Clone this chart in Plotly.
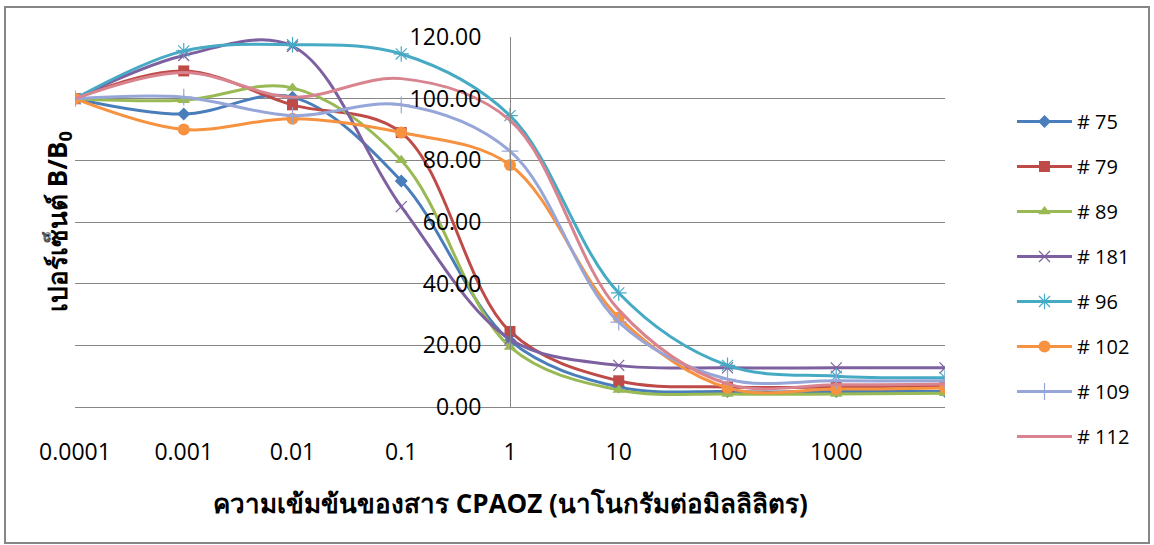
import plotly.graph_objects as go

# ---- data ----
conc = [0.0001, 0.001, 0.01, 0.1, 1, 10, 100, 1000, 10000]
tick_vals = [0.0001, 0.001, 0.01, 0.1, 1, 10, 100, 1000]
tick_text = ["0.0001", "0.001", "0.01", "0.1", "1", "10", "100", "1000"]
y_ticks = [0, 20, 40, 60, 80, 100, 120]
y_ticktext = ["0.00", "20.00", "40.00", "60.00", "80.00", "100.00", "120.00"]

names = ["# 75", "# 79", "# 89", "# 181", "# 96", "# 102", "# 109", "# 112"]
s75 = [100, 95.0, 100.5, 73.3, 21.5, 6.5, 5.0, 5.0, 5.0]
s79 = [100, 109.0, 98.0, 89.0, 24.5, 8.5, 6.5, 6.5, 7.0]
s89 = [100, 99.5, 103.5, 80.0, 19.5, 5.5, 4.2, 4.2, 4.5]
s181 = [100, 114.0, 117.0, 65.0, 22.0, 13.5, 12.7, 12.7, 12.7]
s96 = [100, 115.5, 117.5, 114.5, 94.5, 37.0, 13.5, 10.0, 9.5]
s102 = [100, 90.0, 93.5, 89.0, 78.5, 29.0, 6.2, 5.8, 6.2]
s109 = [100, 100.5, 94.5, 98.0, 83.0, 27.5, 9.0, 8.5, 8.5]
s112 = [100, 108.5, 100.5, 106.5, 93.0, 31.5, 7.5, 7.2, 7.5]
series = [s75, s79, s89, s181, s96, s102, s109, s112]

colors = ["#4A7EBB", "#BE4B48", "#98B954", "#7D60A0", "#46AAC5", "#F69240", "#97A6D8", "#D9838F"]
symbols = ["diamond", "square", "triangle-up", "x-thin", "asterisk", "circle", "cross-thin", None]
msizes = [10, 11, 11, 11, 13, 12, 12, 0]

fig = go.Figure()
for name, ys, col, sym, ms in zip(names, series, colors, symbols, msizes):
    if sym is None:
        fig.add_trace(go.Scatter(
            x=conc, y=ys, name=name, mode="lines", legendgroup=name,
            line=dict(color=col, width=3, shape="spline", smoothing=1.0)))
    else:
        thin = sym in ("x-thin", "asterisk", "cross-thin")
        fig.add_trace(go.Scatter(
            x=conc, y=ys, name=name, mode="lines+markers", legendgroup=name,
            line=dict(color=col, width=3, shape="spline", smoothing=1.0),
            marker=dict(symbol=sym, size=ms, color=col,
                        line=dict(color=col, width=1.2 if thin else 0))))

L, R, T, B = 75, 209, 37, 138
W, H = 1154, 545
pw = W - L - R
ph = H - T - B

def px_x(p):
    return (p - L) / pw

def px_y(p):
    return (H - B - p) / ph

fig.update_layout(
    width=W, height=H,
    margin=dict(l=L, r=R, t=T, b=B),
    paper_bgcolor="white", plot_bgcolor="white",
    font=dict(family="Open Sans, Noto Sans, sans-serif", color="#000000"),
    showlegend=True,
    legend=dict(x=px_x(1012), xanchor="left", y=px_y(279), yanchor="middle",
                font=dict(size=20, color="#000000"),
                tracegroupgap=16, itemwidth=55, bgcolor="rgba(0,0,0,0)"),
    xaxis=dict(type="log", range=[-4, 4], tickvals=tick_vals, ticktext=tick_text,
               showgrid=False, zeroline=False, showline=True, linecolor="#868686",
               linewidth=1, ticks="", ticklabelstandoff=24,
               tickfont=dict(size=23, color="#000000")),
    yaxis=dict(range=[0, 120], tickvals=y_ticks, ticktext=y_ticktext,
               anchor="free", position=0.5, showgrid=True, gridcolor="#868686",
               gridwidth=1, zeroline=False, showline=True, linecolor="#868686",
               linewidth=1, ticks="", ticklabelstandoff=24,
               tickfont=dict(size=23, color="#000000")),
)

fig.add_annotation(
    text="<b>ความเข้มข้นของสาร CPAOZ (นาโนกรัมต่อมิลลิลิตร)</b>",
    xref="paper", yref="paper", x=0.5, y=px_y(503), xanchor="center", yanchor="middle",
    showarrow=False, font=dict(size=26, color="#000000"))
fig.add_annotation(
    text="<b>เปอร์เซ็นต์ B/B<sub>0</sub></b>",
    xref="paper", yref="paper", x=px_x(58), y=px_y(222), xanchor="center", yanchor="middle",
    textangle=-90, showarrow=False, font=dict(size=26, color="#000000"))

fig.add_shape(type="rect", xref="paper", yref="paper",
              x0=px_x(5), x1=px_x(1149), y0=px_y(543), y1=px_y(7),
              line=dict(color="#868686", width=2), fillcolor="rgba(0,0,0,0)", layer="below")

fig.write_html("out.html")
